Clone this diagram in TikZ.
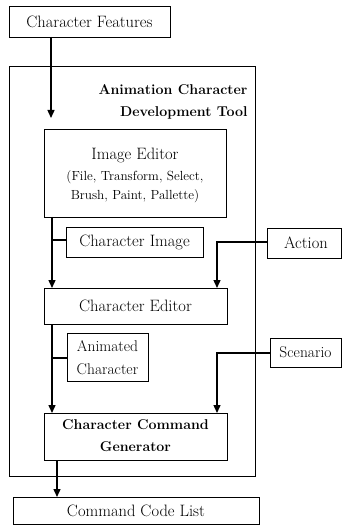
\documentclass[tikz,border=0pt]{standalone}
\usetikzlibrary{arrows.meta}
\begin{document}
\begin{tikzpicture}[x=1pt,y=-1pt,
  box/.style={draw,line width=0.9pt},
  lbl/.style={font=\fontsize{16.5}{18}\selectfont},
  blbl/.style={font=\fontsize{14.2}{16}\selectfont\bfseries},
  slbl/.style={font=\fontsize{13.2}{15}\selectfont},
  flow/.style={line width=1.4pt,-{Triangle[length=8pt,width=7pt]}},
  tick/.style={line width=1.4pt}]
\useasboundingbox (0,0) rectangle (342,526);

% outer tool frame
\draw[box] (9,66) rectangle (255,476);
\node[blbl,anchor=east] (t1) at (251,90) {Animation Character};
\node[blbl,anchor=east] (t2) at (251,113) {Development Tool};

% boxes
\draw[box] (9,6) rectangle (170,37);
\node[lbl] (cf) at (89.5,21.5) {Character Features};
\coordinate (cfb) at (51,37);

\draw[box] (44,129) rectangle (226,217);
\node[lbl] (ie) at (135,155) {Image Editor};
\node[slbl] (ie2) at (135,177) {(File, Transform, Select,};
\node[slbl] (ie3) at (135,196) {Brush, Paint, Pallette)};
\coordinate (ieb) at (52,217);

\draw[box] (66,227) rectangle (203,257);
\node[lbl] (ci) at (134.5,242) {Character Image};

\draw[box] (44,288) rectangle (227,324);
\node[lbl] (ce) at (135.5,306) {Character Editor};
\coordinate (cet) at (52,288);
\coordinate (cet2) at (217,288);
\coordinate (ceb) at (52,324);

\draw[box] (267,228) rectangle (341,258);
\node[lbl] (act) at (306,243) {Action};

\draw[box] (67,333) rectangle (148,381);
\node[lbl,font=\fontsize{15.5}{17}\selectfont] (ac1) at (107.5,346) {Animated};
\node[lbl,font=\fontsize{15.5}{17}\selectfont] (ac2) at (107.5,369) {Character};

\draw[box] (270,338) rectangle (341,367);
\node[lbl,font=\fontsize{15.5}{17}\selectfont] (sc) at (305.5,352.5) {Scenario};

\draw[box] (44,413) rectangle (227,460);
\node[blbl] (ccg1) at (135.5,425) {Character Command};
\node[blbl] (ccg2) at (135.5,447) {Generator};
\coordinate (ccgt) at (52,413);
\coordinate (ccgt2) at (217,413);
\coordinate (ccgb) at (57,460);

\draw[box] (13,497) rectangle (259,524);
\node[lbl] (ccl) at (136,510.5) {Command Code List};
\coordinate (cclt) at (57,497);

% connectors
\draw[flow] (cfb) -- (51,118);
\draw[flow] (ieb) -- (cet);
\draw[tick] (52,240) -- (66,240);
\draw[flow] (267,242) -| (cet2);
\draw[flow] (ceb) -- (ccgt);
\draw[tick] (52,358) -- (67,358);
\draw[flow] (270,353) -| (ccgt2);
\draw[flow] (ccgb) -- (cclt);
\end{tikzpicture}
\end{document}
